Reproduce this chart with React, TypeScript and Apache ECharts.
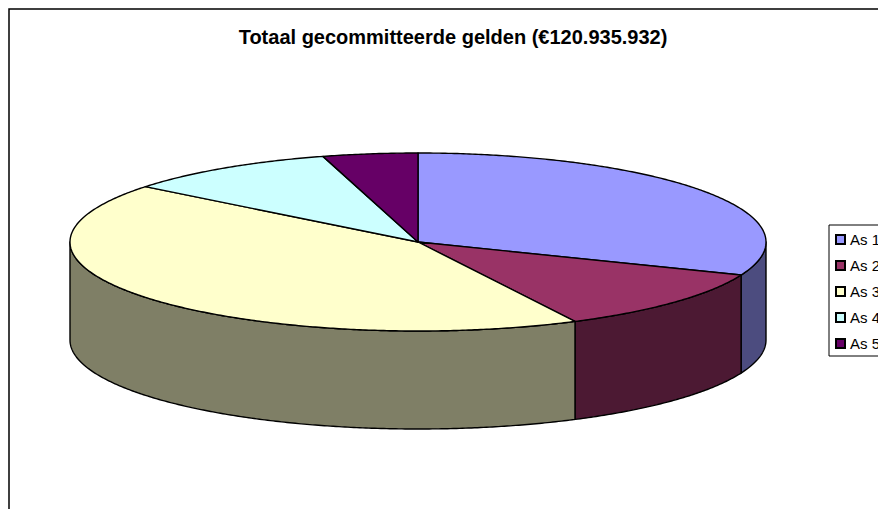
import React, { useEffect, useRef } from "react";
import * as echarts from "echarts";

const titleText = "Totaal gecommitteerde gelden (€120.935.932)";
const categories = ["As 1", "As 2", "As 3", "As 4", "As 5"];
const values = [37560000, 13900000, 52150000, 12000000, 5326000];
const topColors = ["#9999FF", "#993366", "#FFFFCC", "#CCFFFF", "#660066"];
const sideColors = ["#4C4C7F", "#4C1933", "#7F7F66", "#667F7F", "#330033"];

const CX = 418;
const CY = 242;
const RX = 348;
const RY = 89;
const DEPTH = 98;
const total = values.reduce((a, b) => a + b, 0);

const rim = (deg: number, drop = 0): number[] => {
  const t = (deg * Math.PI) / 180;
  return [CX + RX * Math.sin(t), CY - RY * Math.cos(t) + drop];
};

const arcPoints = (a: number, b: number, drop = 0): number[][] => {
  const pts: number[][] = [];
  const n = Math.max(2, Math.ceil(Math.abs(b - a) * 2));
  for (let i = 0; i <= n; i++) pts.push(rim(a + ((b - a) * i) / n, drop));
  return pts;
};

const renderSlice = (index: number) => (_params: any, api: any) => {
  const before = values.slice(0, index).reduce((a, b) => a + b, 0);
  const start = (before / total) * 360;
  const end = start + (api.value(0) / total) * 360;
  const children: any[] = [];
  const s = Math.max(start, 90);
  const e = Math.min(end, 270);
  const stroke = { stroke: "#000", lineWidth: 1.4, lineJoin: "round" };
  if (e > s) {
    children.push({
      type: "polygon",
      shape: { points: [...arcPoints(s, e), ...arcPoints(e, s, DEPTH)] },
      style: { fill: sideColors[index], ...stroke },
    });
  }
  children.push({
    type: "polygon",
    shape: { points: [[CX, CY], ...arcPoints(start, end)] },
    style: { fill: topColors[index], ...stroke },
  });
  return { type: "group", children };
};

export default function App() {
  const ref = useRef<HTMLDivElement>(null);
  useEffect(() => {
    const chart = echarts.init(ref.current!, undefined, { renderer: "svg" });
    chart.setOption({
      animation: false,
      backgroundColor: "#fff",
      title: {
        text: titleText,
        left: 453,
        top: 27,
        textAlign: "center",
        padding: 0,
        textStyle: {
          fontFamily: "Liberation Sans",
          fontWeight: "bold",
          fontSize: 20,
          color: "#000",
        },
      },
      legend: {
        orient: "vertical",
        left: 829,
        top: 225,
        padding: [7, 40, 5, 6],
        itemWidth: 9,
        itemHeight: 9,
        itemGap: 11,
        selectedMode: false,
        backgroundColor: "#fff",
        borderColor: "#000",
        borderWidth: 1,
        icon: "rect",
        textStyle: { fontFamily: "Liberation Sans", fontSize: 15, color: "#000" },
        data: categories,
      },
      graphic: [
        {
          type: "rect",
          silent: true,
          shape: { x: 9, y: 9, width: 900, height: 540 },
          style: { fill: "none", stroke: "#000", lineWidth: 1.5 },
        },
      ],
      series: categories.map((name, i) => ({
        type: "custom",
        name,
        coordinateSystem: "none",
        silent: true,
        itemStyle: { color: topColors[i], borderColor: "#000", borderWidth: 1 },
        renderItem: renderSlice(i),
        data: [[values[i]]],
      })),
    });
    return () => chart.dispose();
  }, []);
  return (
    <div
      ref={ref}
      style={{ position: "fixed", left: 0, top: 0, width: 878, height: 509, overflow: "hidden" }}
    />
  );
}
